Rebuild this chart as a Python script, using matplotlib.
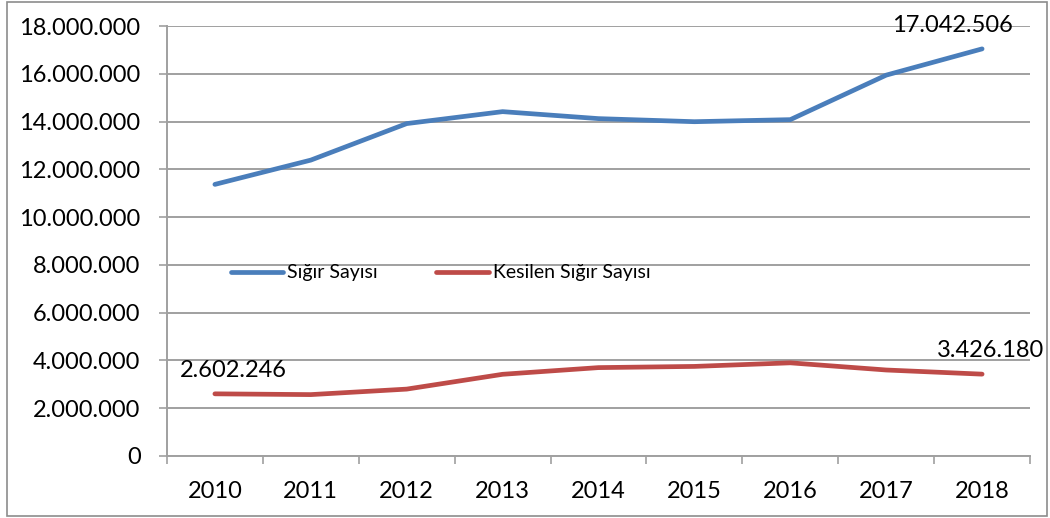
import numpy as np
import matplotlib.pyplot as plt
from matplotlib.patches import Rectangle
from matplotlib.ticker import FuncFormatter

# data
years = ["2010", "2011", "2012", "2013", "2014", "2015", "2016", "2017", "2018"]
sigir_sayisi = [11369800, 12386337, 13914912, 14415257, 14122847, 13994071, 14080155, 15943586, 17042506]
kesilen_sigir = [2602246, 2570000, 2800000, 3420000, 3700000, 3750000, 3900000, 3600000, 3426180]
yticks = np.arange(0, 18000001, 2000000)

blue = "#4a7ebb"
red = "#be4b48"
grid_c = "#a0a0a0"

plt.rcParams["font.family"] = ["Lato", "DejaVu Sans"]

fig = plt.figure(figsize=(10.5, 5.18), dpi=100)
ax = fig.add_axes([0.159, 0.1197, 0.822, 0.8301])

x = np.arange(len(years))
ax.plot(x, sigir_sayisi, color=blue, lw=3.4, solid_capstyle="round", solid_joinstyle="round", label="Sığır Sayısı")
ax.plot(x, kesilen_sigir, color=red, lw=3.4, solid_capstyle="round", solid_joinstyle="round", label="Kesilen Sığır Sayısı")

def tr_fmt(v, pos):
    return "{:,.0f}".format(v).replace(",", ".")

ax.set_ylim(0, 18000000)
ax.set_yticks(yticks)
ax.yaxis.set_major_formatter(FuncFormatter(tr_fmt))
ax.set_xlim(-0.5, len(years) - 0.5)
ax.set_xticks(x)
ax.set_xticklabels(years)
ax.set_xticks(np.arange(-0.5, len(years)), minor=True)
ax.tick_params(axis="x", which="major", length=0, pad=18, labelsize=17)
ax.tick_params(axis="x", which="minor", length=6, width=1.2, color=grid_c)
ax.tick_params(axis="y", length=6, width=1.2, color=grid_c, pad=13, labelsize=17)

ax.grid(axis="y", color=grid_c, lw=1.4)
ax.set_axisbelow(True)
for s in ["top", "right"]:
    ax.spines[s].set_visible(False)
for s in ["left", "bottom"]:
    ax.spines[s].set_color(grid_c)
    ax.spines[s].set_linewidth(1.4)

# data labels
ax.annotate(tr_fmt(sigir_sayisi[-1], 0), (x[-1], sigir_sayisi[-1]), xytext=(-21, 17),
            textcoords="offset points", ha="center", va="center", fontsize=17)
ax.annotate(tr_fmt(kesilen_sigir[-1], 0), (x[-1], kesilen_sigir[-1]), xytext=(6, 17),
            textcoords="offset points", ha="center", va="center", fontsize=17)
ax.annotate(tr_fmt(kesilen_sigir[0], 0), (x[0], kesilen_sigir[0]), xytext=(13, 17),
            textcoords="offset points", ha="center", va="center", fontsize=17)

ax.legend(loc="center left", bbox_to_anchor=(0.065, 0.4256), ncol=2, frameon=False,
          fontsize=14, handlelength=2.7, handletextpad=0.2, columnspacing=3.0,
          borderaxespad=0)

# chart border
fig.patches.append(Rectangle((7 / 1050, 2 / 518), 1040 / 1050, 514 / 518, transform=fig.transFigure,
                             fill=False, edgecolor="#8c8c8c", lw=1.2))

fig.savefig("out.png", dpi=100)
